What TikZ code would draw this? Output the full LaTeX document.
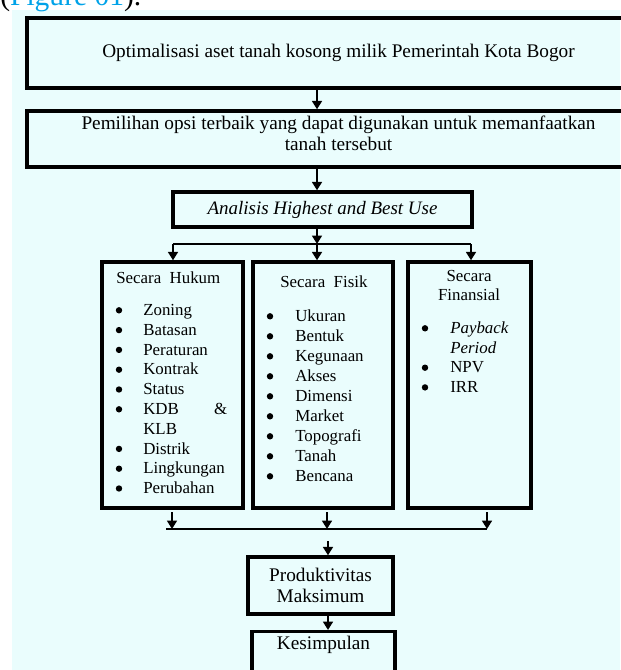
\documentclass[tikz,border=0pt]{standalone}
\usepackage{fontspec}
\setmainfont{Liberation Serif}
\usepackage{xcolor}
\usepackage{tikz}
\usetikzlibrary{positioning, shapes}
\usetikzlibrary{arrows.meta}
\definecolor{panelcyan}{RGB}{234,253,253}
\definecolor{linkblue}{RGB}{0,162,232}

\begin{document}
\begin{tikzpicture}
            \tikzset{box/.style = {draw, line width=2.4pt, inner sep=0pt, align=center, font=\fontsize{13.7}{15}\selectfont}}
            \tikzset{edge/.style = {-{Triangle[length=6pt,width=7pt]}, line width=1.8pt}}
            \tikzset{joinline/.style = {line width=1.8pt}}
            \tikzset{item/.style = {anchor=base west, inner sep=0pt, font=\fontsize{12}{14}\selectfont}}
            \tikzset{dot/.style = {circle, fill, inner sep=0pt, minimum size=0.16cm}}

            \useasboundingbox (0,0) rectangle (15.5,-16.75);
            \fill[panelcyan] (0.3,-0.25) rectangle (15.5,-16.75);

            % caption line, cut at the top
            \node[anchor=base west, inner sep=0pt, font=\fontsize{21}{24}\selectfont] (cap) at (0,-0.13) {(\textcolor{linkblue}{Figure 01}).};

            % upper boxes
            \node[box, minimum width=15.575cm, minimum height=1.75cm] (opt) at (8.4625,-1.325)
                {Optimalisasi aset tanah kosong milik Pemerintah Kota Bogor};
            \node[box, minimum width=15.575cm, minimum height=1.4cm, text depth=0.3cm] (pilih) at (8.4625,-3.475)
                {Pemilihan opsi terbaik yang dapat digunakan untuk memanfaatkan\\tanah tersebut};
            \node[box, minimum width=7.475cm, minimum height=0.875cm, font=\fontsize{13.5}{15}\selectfont\itshape] (hbu) at (8.0625,-5.2375)
                {Analisis Highest and Best Use};

            % three columns
            \node[box, minimum width=3.525cm, minimum height=6.15cm] (hukum) at (4.3125,-9.625) {};
            \node[box, minimum width=3.5cm, minimum height=6.15cm] (fisik) at (8.075,-9.625) {};
            \node[box, minimum width=3.075cm, minimum height=6.15cm] (finansial) at (11.7375,-9.625) {};

            % lower boxes
            \node[box, minimum width=3.625cm, minimum height=1.425cm] (produktif) at (8.0125,-14.6375)
                {Produktivitas\\Maksimum};
            \node[box, anchor=north, minimum width=3.575cm, minimum height=1.3cm, text depth=0.72cm] (simpul) at (8.0875,-15.75)
                {Kesimpulan};

            % secara hukum
            \node[item] (hhead) at (2.9,-7.0875) {Secara\ \ Hukum};
            \foreach \row/\word in {0/Zoning, 1/Batasan, 2/Peraturan, 3/Kontrak, 4/Status, 7/Distrik, 8/Lingkungan, 9/Perubahan} {
                \node[dot] (hd\row) at (2.975,-7.7575-0.495*\row) {};
                \node[item] (ht\row) at (3.575,-7.8875-0.495*\row) {\word};
            }
            \node[dot] (hd5) at (2.975,-7.7575-0.495*5) {};
            \node[item] (ht5) at (3.575,-7.8875-0.495*5) {\makebox[2.1cm][l]{KDB\hfill\&}};
            \node[item] (ht6) at (3.575,-7.8875-0.495*6) {KLB};

            % secara fisik
            \node[item] (fhead) at (7.0,-7.1875) {Secara\ \ Fisik};
            \foreach \row/\word in {0/Ukuran, 1/Bentuk, 2/Kegunaan, 3/Akses, 4/Dimensi, 5/Market, 6/Topografi, 7/Tanah, 8/Bencana} {
                \node[dot] (fd\row) at (6.75,-7.9075-0.5*\row) {};
                \node[item] (ft\row) at (7.375,-8.0375-0.5*\row) {\word};
            }

            % secara finansial
            \node[align=center, inner sep=0pt, font=\fontsize{12}{13.5}\selectfont] (nhead) at (11.725,-7.1375) {Secara\\Finansial};
            \node[dot] (nd0) at (10.625,-8.2075) {};
            \node[item, font=\fontsize{12}{14}\selectfont\itshape] (nt0) at (11.25,-8.3375) {Payback};
            \node[item, font=\fontsize{12}{14}\selectfont\itshape] (nt1) at (11.25,-8.83) {Period};
            \node[dot] (nd2) at (10.625,-9.1925) {};
            \node[item] (nt2) at (11.25,-9.3225) {NPV};
            \node[dot] (nd3) at (10.625,-9.685) {};
            \node[item] (nt3) at (11.25,-9.815) {IRR};

            % arrows down the middle
            \coordinate (spine) at (7.925,0);
            \draw[edge] (opt.south -| spine) -- (pilih.north -| spine);
            \draw[edge] (pilih.south -| spine) -- (hbu.north -| spine);

            % split into the columns
            \coordinate (split) at (7.925,-6.1);
            \coordinate (splitL) at (4.325,-6.1);
            \coordinate (splitR) at (11.775,-6.1);
            \draw[edge] (hbu.south -| split) -- (split);
            \draw[joinline] (splitL) -- (splitR);
            \draw[edge] (splitL) -- (hukum.north -| splitL);
            \draw[edge] (split) -- (fisik.north -| split);
            \draw[edge] (splitR) -- (finansial.north -| splitR);

            % merge below the columns
            \coordinate (hOut) at (4.3,-12.8);
            \coordinate (fOut) at (8.175,-12.8);
            \coordinate (nOut) at (12.175,-12.8);
            \coordinate (mergeL) at (4.15,-13.225);
            \coordinate (mergeR) at (12.175,-13.225);
            \draw[joinline] (mergeL) -- (mergeR);
            \draw[edge] (hOut) -- (hOut |- mergeL);
            \draw[edge] (fOut) -- (fOut |- mergeL);
            \draw[edge] (nOut) -- (nOut |- mergeL);

            % to the end
            \coordinate (pIn) at (8.2,-13.525);
            \draw[edge] (pIn) -- (produktif.north -| pIn);
            \draw[edge] (produktif.south -| pIn) -- (simpul.north -| pIn);
        \end{tikzpicture}
\end{document}
